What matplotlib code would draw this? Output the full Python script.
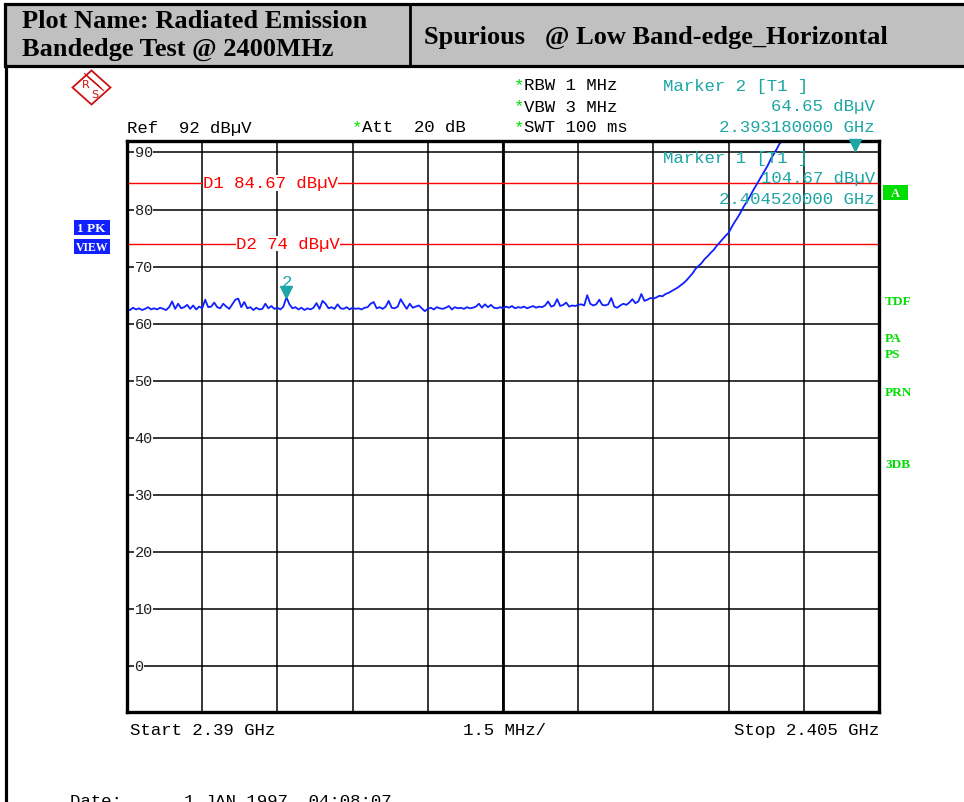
import numpy as np
import matplotlib
matplotlib.use("Agg")
import matplotlib.pyplot as plt
from matplotlib.patches import Rectangle, Polygon
import matplotlib.transforms as mtransforms

# ---------------- data ----------------
f_start = 2.390   # GHz
f_stop = 2.405    # GHz
ref_level = 92    # dBuV
y_bottom = -8
y_tick_values = [90, 80, 70, 60, 50, 40, 30, 20, 10, 0]
display_lines = [84.67, 74.0]
display_labels = ["D1 84.67 dB\u00b5V", "D2 74 dB\u00b5V"]
marker_freqs = [2.40452, 2.39318]
marker_levels = [104.67, 64.65]

trace_dbuv = [
    62.6, 62.4, 62.8, 62.5, 62.7, 62.4, 62.6, 62.9, 62.5, 62.7,
    62.5, 62.8, 62.6, 62.4, 62.9, 63.9, 62.6, 63.5, 62.7, 62.9,
    63.3, 62.6, 63.2, 62.5, 63.0, 62.7, 64.2, 62.9, 63.0, 63.7,
    62.9, 62.7, 63.5, 63.0, 62.6, 63.4, 64.2, 64.4, 62.9, 63.8,
    62.7, 62.9, 62.4, 62.8, 62.5, 62.6, 63.5, 62.7, 63.1, 62.6,
    62.8, 62.5, 63.0, 64.65, 63.4, 62.7, 62.9, 62.5, 62.8, 62.4,
    62.7, 62.5, 62.8, 63.6, 62.6, 64.0, 63.5, 62.7, 62.9, 62.6,
    63.4, 62.7, 62.6, 62.9, 62.5, 62.8, 62.6, 62.7, 62.5, 62.8,
    62.9, 63.5, 63.8, 62.7, 62.9, 62.6, 63.0, 64.0, 62.8, 62.7,
    63.0, 64.3, 63.4, 62.6, 63.5, 62.8, 63.0, 63.2, 62.7, 62.2,
    62.6, 62.8, 62.5, 62.9, 62.7, 62.6, 62.8, 63.1, 62.5, 62.9,
    62.7, 62.8, 62.6, 62.9, 62.7, 62.8, 63.0, 63.5, 62.8, 63.4,
    62.9, 63.3, 62.8, 62.7, 62.9, 62.7, 63.0, 62.8, 63.1, 62.7,
    62.9, 62.8, 63.0, 62.7, 62.9, 63.1, 62.8, 63.0, 62.9, 63.2,
    63.9, 63.0, 63.2, 64.3, 63.1, 63.3, 63.7, 63.0, 63.2, 63.1,
    63.3, 63.4, 63.2, 65.0, 63.5, 63.2, 63.4, 64.2, 63.3, 63.2,
    63.4, 64.5, 63.0, 62.8, 63.2, 63.5, 63.3, 63.7, 64.3, 63.6,
    63.9, 65.2, 64.0, 64.2, 64.5, 64.4, 64.6, 64.9, 64.8, 65.2,
    65.4, 65.7, 66.0, 66.3, 66.7, 67.1, 67.6, 68.2, 68.8, 69.6,
    70.1, 70.6, 71.3, 71.8, 72.4, 72.9, 73.6, 74.2, 74.8, 75.4,
    75.9, 76.9, 77.8, 78.6, 79.5, 80.5, 81.3, 82.2, 83.2, 84.1,
    85.0, 85.9, 86.8, 87.7, 88.8, 89.7, 90.6, 91.6, 92.0, 92.0,
    92.0, 92.0, 92.0, 92.0, 92.0, 92.0, 92.0, 92.0, 92.0, 92.0,
    92.0, 92.0, 92.0, 92.0, 92.0, 92.0, 92.0, 92.0, 92.0, 92.0,
    92.0, 92.0, 92.0, 92.0, 92.0, 92.0, 92.0, 92.0, 92.0, 92.0,
    92.0,
]
trace_freq = np.linspace(f_start, f_stop, len(trace_dbuv))

# ---------------- figure ----------------
W, H = 964, 803
fig = plt.figure(figsize=(W / 100, H / 100), dpi=100)
fig.patch.set_facecolor("white")

def fx(x):
    return x / W

def fy(y):
    return 1 - y / H

def ptext(x, y, s, **kw):
    kw.setdefault("va", "center")
    return fig.text(fx(x), fy(y), s, **kw)

TEAL = "#1ea5a5"
GREEN = "#00dd00"
BLUE = "#1020ff"
RED = "#ff0000"
MONO = "Liberation Mono"
SERIF = "Liberation Serif"
FS = 12.5
CHAR_W = 0.6 * FS * 100 / 72   # monospace advance in pixels

# overlay axes in pixel coordinates for decorations
bg = fig.add_axes([0, 0, 1, 1], zorder=-1)
bg.set_xlim(0, W)
bg.set_ylim(H, 0)
bg.axis("off")

# header
bg.add_patch(Rectangle((5, 5), W + 10, 62, facecolor="#c0c0c0", edgecolor="black", lw=2.3))
bg.plot([410, 410], [5, 67], color="black", lw=2.0)
bg.plot([6, 6], [67, H + 5], color="black", lw=2.3)
ptext(22, 21, "Plot Name: Radiated Emission", family=SERIF, weight="bold", fontsize=19)
ptext(22, 49, "Bandedge Test @ 2400MHz", family=SERIF, weight="bold", fontsize=19)
ptext(424, 37, "Spurious   @ Low Band-edge_Horizontal", family=SERIF, weight="bold", fontsize=19)

# R&S logo
cx, cy = 91.5, 88.5
logo = Polygon([(cx - 19, cy), (cx, cy - 17), (cx + 19, cy), (cx, cy + 17)], closed=True,
               facecolor="white", edgecolor="#cc1111", lw=1.3)
bg.add_patch(logo)
for d in (-2.0, 0, 2.0):
    bg.plot([cx - 5 + d, cx + 10 + d], [cy - 12 + d, cy + 1 + d], color="#cc1111", lw=0.8)
bg.text(cx - 6, cy - 4, "R", color="#cc1111", fontsize=8, ha="center", va="center", family="DejaVu Sans")
bg.text(cx + 3, cy + 7, "S", color="#cc1111", fontsize=8, ha="center", va="center", family="DejaVu Sans")

# side boxes
bg.add_patch(Rectangle((74, 221), 36, 15, facecolor=BLUE, edgecolor="none"))
bg.add_patch(Rectangle((74, 240), 36, 15, facecolor=BLUE, edgecolor="none"))
bg.add_patch(Rectangle((883, 186), 25, 15, facecolor=GREEN, edgecolor="none"))
ptext(77, 229, "1 PK", color="white", family=SERIF, weight="bold", fontsize=9.5)
ptext(76, 248, "VIEW", color="white", family=SERIF, weight="bold", fontsize=8.5)
ptext(895.5, 194, "A", color="white", family=SERIF, weight="bold", fontsize=9, ha="center")
for lab, yy in [("TDF", 302), ("PA", 339), ("PS", 355), ("PRN", 393), ("3DB", 465)]:
    ptext(885, yy, lab, color=GREEN, family=SERIF, weight="bold", fontsize=9.5)

# instrument settings text
ptext(127, 128, "Ref  92 dB\u00b5V", family=MONO, fontsize=FS)
for xx, yy, s in [(352, 128, "Att  20 dB"), (514, 86, "RBW 1 MHz"),
                  (514, 107, "VBW 3 MHz"), (514, 128, "SWT 100 ms")]:
    ptext(xx, yy, "*", family=MONO, fontsize=FS, color=GREEN)
    ptext(xx + CHAR_W, yy, s, family=MONO, fontsize=FS)
ptext(663, 86, "Marker 2 [T1 ]", family=MONO, fontsize=FS, color=TEAL)
ptext(875, 107, "64.65 dB\u00b5V", family=MONO, fontsize=FS, color=TEAL, ha="right")
ptext(875, 128, "2.393180000 GHz", family=MONO, fontsize=FS, color=TEAL, ha="right")

# ---------------- plot axes ----------------
ax = fig.add_axes([fx(127), fy(713), fx(879) - fx(127), fy(142) - fy(713)], zorder=1)
ax.set_facecolor("white")
ax.set_xlim(f_start, f_stop)
ax.set_ylim(y_bottom, ref_level)
ax.set_xticks(np.linspace(f_start, f_stop, 11))
ax.set_yticks(y_tick_values)
ax.tick_params(length=0, labelbottom=False, labelleft=False)
ax.grid(True, color="black", lw=1.1)
ax.axvline((f_start + f_stop) / 2, color="black", lw=2.0)
for sp in ax.spines.values():
    sp.set_linewidth(2.4)
    sp.set_zorder(5)

for v in y_tick_values:
    ax.text(0.010, v, str(v), transform=ax.get_yaxis_transform(), family=MONO, fontsize=11,
            va="center", ha="left", color="#222222",
            bbox=dict(facecolor="white", edgecolor="none", pad=0.3))

for lvl, lab, xa in zip(display_lines, display_labels, [0.101, 0.145]):
    ax.axhline(lvl, color=RED, lw=1.0, zorder=3)
    ax.text(xa, lvl, lab, transform=ax.get_yaxis_transform(), family=MONO, fontsize=FS,
            color=RED, va="center", ha="left", zorder=3,
            bbox=dict(facecolor="white", edgecolor="none", pad=0.1))

ax.plot(trace_freq, trace_dbuv, color=BLUE, lw=1.3, zorder=4, clip_on=False)

# markers
up = mtransforms.offset_copy(ax.transData, fig=fig, x=0, y=5, units="dots")
down = mtransforms.offset_copy(ax.transData, fig=fig, x=0, y=-4, units="dots")
lbl = mtransforms.offset_copy(ax.transData, fig=fig, x=1, y=16, units="dots")
ax.plot([marker_freqs[1]], [marker_levels[1]], marker="v", color=TEAL, ms=8, transform=up, zorder=6)
ax.text(marker_freqs[1], marker_levels[1], "2", transform=lbl, color=TEAL, family=MONO,
        fontsize=FS, ha="center", va="center", zorder=6)
ax.plot([marker_freqs[0]], [min(marker_levels[0], ref_level)], marker="v", color=TEAL, ms=8,
        transform=down, zorder=6, clip_on=False)

# marker 1 text (over the grid)
ptext(663, 158, "Marker 1 [T1 ]", family=MONO, fontsize=FS, color=TEAL, zorder=10)
ptext(875, 179, "104.67 dB\u00b5V", family=MONO, fontsize=FS, color=TEAL, ha="right", zorder=10)
ptext(875, 200, "2.404520000 GHz", family=MONO, fontsize=FS, color=TEAL, ha="right", zorder=10)

# bottom annotations
ptext(130, 731, "Start 2.39 GHz", family=MONO, fontsize=FS)
ptext(463, 731, "1.5 MHz/", family=MONO, fontsize=FS)
ptext(879, 731, "Stop 2.405 GHz", family=MONO, fontsize=FS, ha="right")
ptext(70, 794, "Date:      1.JAN.1997  04:08:07", family=MONO, fontsize=FS, va="top")

fig.savefig("out.png", dpi=100)
